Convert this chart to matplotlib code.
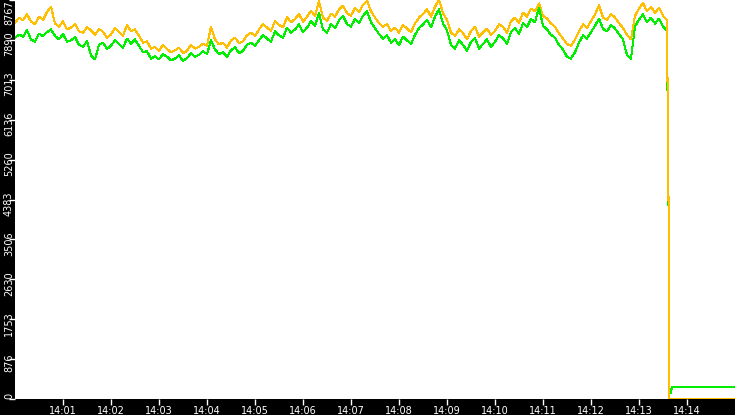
import numpy as np
import matplotlib.pyplot as plt
from matplotlib.transforms import ScaledTranslation

# samples every 5 s starting at 14:00:00
step_s = 5
orange = [
    8260, 8380, 8320, 8450, 8290, 8240, 8400, 8330, 8500, 8620,
    8250, 8180, 8300, 8120, 8160, 8240, 8080, 8050, 8170, 8100,
    8000, 8130, 8070, 7940, 8010, 8150, 8060, 7980, 8220, 8080,
    8120, 7980, 7830, 7860, 7700, 7740, 7650, 7780, 7690, 7620,
    7660, 7720, 7600, 7650, 7780, 7700, 7740, 7810, 7760, 8180,
    7900, 7790, 7830, 7720, 7880, 7940, 7820, 7860, 7990, 8050,
    7980, 8120, 8240, 8160, 8090, 8300, 8220, 8170, 8390, 8280,
    8350, 8460, 8290, 8400, 8530, 8420, 8740, 8380, 8310, 8470,
    8400, 8560, 8640, 8480, 8420, 8590, 8500, 8660, 8750, 8520,
    8380, 8260, 8180, 8240, 8090, 8160, 8050, 8220, 8140, 8060,
    8250, 8380, 8460, 8560, 8400, 8620, 8770, 8480, 8330, 8050,
    7980, 8120, 8040, 7900, 8090, 8180, 7960, 8050, 8140, 8000,
    8090, 8230, 8180, 8050, 8300, 8380, 8260, 8490, 8400, 8580,
    8520, 8690, 8420, 8360, 8250, 8180, 8030, 7920, 7800, 7760,
    7900, 8080, 8230, 8160, 8300, 8450, 8650, 8380, 8330, 8460,
    8380, 8260, 8150, 8000, 7900, 8420, 8580, 8700, 8520, 8620,
    8480, 8600, 8420, 8330,
]
green = [
    7930, 8010, 7960, 8100, 7900, 7850, 8030, 7970, 8060, 8120,
    7980, 7900, 8020, 7850, 7880, 7950, 7780, 7740, 7860, 7550,
    7460, 7780, 7830, 7690, 7760, 7880, 7800, 7720, 7920, 7810,
    7900, 7760, 7620, 7640, 7480, 7530, 7460, 7580, 7520, 7440,
    7480, 7550, 7430, 7490, 7600, 7520, 7560, 7640, 7580, 7880,
    7680, 7580, 7620, 7520, 7660, 7730, 7600, 7650, 7780, 7830,
    7760, 7880, 8000, 7920, 7850, 8080, 7990, 7940, 8160, 8050,
    8120, 8230, 8060, 8160, 8300, 8200, 8480, 8120, 8050, 8240,
    8150, 8320, 8420, 8240, 8180, 8350, 8260, 8420, 8520, 8280,
    8150, 8020, 7920, 7990, 7830, 7900, 7780, 7960, 7880, 7800,
    8000, 8150, 8230, 8330, 8170, 8400, 8560, 8250, 8100, 7780,
    7700, 7880, 7780, 7650, 7850, 7930, 7700, 7800, 7900, 7740,
    7850, 7990, 7930, 7800, 8060, 8150, 8020, 8260, 8170, 8350,
    8280, 8600, 8200, 8120, 8000, 7940, 7780, 7680, 7520, 7480,
    7620, 7830, 7990, 7920, 8060, 8200, 8360, 8130, 8080, 8220,
    8140, 8020, 7900, 7560, 7480, 8180, 8340, 8450, 8280, 8380,
    8250, 8360, 8180, 8100,
]
# the drop at the end
tail_t = [817, 818, 820, 821, 900]
tail_orange = [4150, 0, 0, 0, 0]
tail_green = [4050, 130, 130, 270, 270]

ytick_labels = ['0', '876', '1753', '2630', '3506', '4383',
                '5260', '6136', '7013', '7890', '8767']
xtick_labels = ['14:%02d' % m for m in range(1, 15)]
y_max = 8767

t = np.arange(len(orange)) * step_s
t_all = np.concatenate([t, tail_t])
y_o = np.concatenate([orange, tail_orange])
y_g = np.concatenate([green, tail_green])

fig = plt.figure(figsize=(7.35, 4.15), dpi=100, facecolor='black')
ax = fig.add_axes([15 / 735, 16 / 415, 720 / 735, 399 / 415])
ax.set_facecolor('white')

ax.plot(t_all, y_o, color='#ffbf00', lw=0.75, antialiased=False, zorder=2)
ax.plot(t_all, y_g, color='#00ee00', lw=0.75, antialiased=False, zorder=3)
# orange drop drawn on top of the green one
n = len(t)
ax.plot(t_all[n - 1:n + 2], y_o[n - 1:n + 2],
        color='#ffbf00', lw=0.75, antialiased=False, zorder=4)

ax.set_xlim(0, 900)
ax.set_ylim(0, y_max)
for s in ax.spines.values():
    s.set_visible(False)

ax.set_xticks(np.arange(1, 15) * 60)
ax.set_xticklabels(xtick_labels)
ax.set_yticks([y_max * i / 10 for i in range(11)])
ax.set_yticklabels(ytick_labels, rotation=90)

ax.tick_params(axis='x', colors='white', labelsize=7, length=4, width=1,
               direction='out', pad=1)
ax.tick_params(axis='y', colors='white', labelsize=7, length=4, width=1,
               direction='out', pad=1)

# nudge y labels down a bit, keep the end ones inside
labels = ax.get_yticklabels()
for i, lab in enumerate(labels):
    lab.set_rotation_mode('anchor')
    if i == 0:
        lab.set_ha('left')
    elif i == len(labels) - 1:
        lab.set_ha('right')
    else:
        lab.set_ha('center')
        off = ScaledTranslation(0, -4 / 100, fig.dpi_scale_trans)
        lab.set_transform(lab.get_transform() + off)

fig.savefig('out.png', dpi=100, facecolor='black')
